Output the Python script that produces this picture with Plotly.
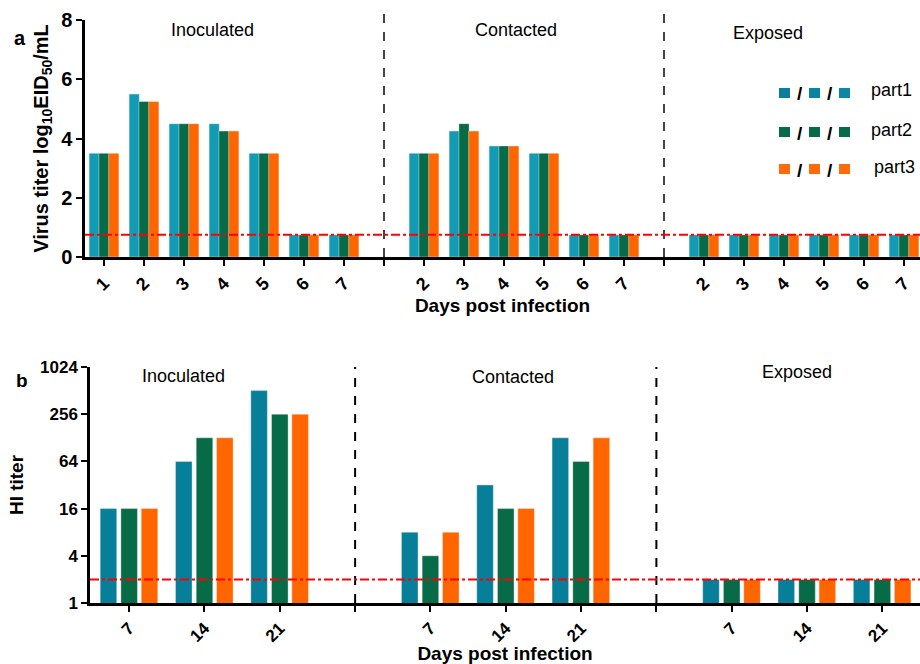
import plotly.graph_objects as go

# ---------------- data: panel a (virus titer, log10 EID50/mL) ----------------
groups = ["Inoculated", "Contacted", "Exposed"]
days_a_inoc = [1, 2, 3, 4, 5, 6, 7]
days_a_cont = [2, 3, 4, 5, 6, 7]
days_a_exp = [2, 3, 4, 5, 6, 7]

a_inoc_part1 = [3.5, 5.5, 4.5, 4.5, 3.5, 0.75, 0.75]
a_inoc_part2 = [3.5, 5.25, 4.5, 4.25, 3.5, 0.75, 0.75]
a_inoc_part3 = [3.5, 5.25, 4.5, 4.25, 3.5, 0.75, 0.75]
a_cont_part1 = [3.5, 4.25, 3.75, 3.5, 0.75, 0.75]
a_cont_part2 = [3.5, 4.5, 3.75, 3.5, 0.75, 0.75]
a_cont_part3 = [3.5, 4.25, 3.75, 3.5, 0.75, 0.75]
a_exp_part1 = [0.75, 0.75, 0.75, 0.75, 0.75, 0.75]
a_exp_part2 = [0.75, 0.75, 0.75, 0.75, 0.75, 0.75]
a_exp_part3 = [0.75, 0.75, 0.75, 0.75, 0.75, 0.75]
a_detection_limit = 0.75
a_yticks = [0, 2, 4, 6, 8]

# ---------------- data: panel b (HI titer) ----------------
days_b_inoc = [7, 14, 21]
days_b_cont = [7, 14, 21]
days_b_exp = [7, 14, 21]

b_inoc_part1 = [16, 64, 512]
b_inoc_part2 = [16, 128, 256]
b_inoc_part3 = [16, 128, 256]
b_cont_part1 = [8, 32, 128]
b_cont_part2 = [4, 16, 64]
b_cont_part3 = [8, 16, 128]
b_exp_part1 = [2, 2, 2]
b_exp_part2 = [2, 2, 2]
b_exp_part3 = [2, 2, 2]
b_detection_limit = 2
b_yticks = [1, 4, 16, 64, 256, 1024]

series_names = ["part1", "part2", "part3"]

# ---------------- styles ----------------
FONT = "Liberation Sans, Arial, Helvetica, sans-serif"
colors_a = ["#139bb5", "#086b48", "#ff6600"]
colors_b = ["#077f99", "#086b48", "#ff6600"]


def build_positions(day_groups):
    """Sequential slots per group, one empty slot between groups for the divider."""
    positions, dividers, pos = [], [], 0
    for i, days in enumerate(day_groups):
        positions.append(list(range(pos, pos + len(days))))
        pos += len(days)
        if i < len(day_groups) - 1:
            dividers.append(pos)
            pos += 1
    return positions, dividers


fig = go.Figure()

# ---------- panel a ----------
pos_a, div_a = build_positions([days_a_inoc, days_a_cont, days_a_exp])
vals_a = [
    [a_inoc_part1, a_cont_part1, a_exp_part1],
    [a_inoc_part2, a_cont_part2, a_exp_part2],
    [a_inoc_part3, a_cont_part3, a_exp_part3],
]
width_a = 0.255
shift_a = [-0.245, 0.0, 0.245]
for s in range(3):
    xs, ys = [], []
    for g in range(3):
        xs += pos_a[g]
        ys += vals_a[s][g]
    fig.add_trace(go.Bar(
        x=xs, y=ys, name=series_names[s], xaxis="x", yaxis="y",
        width=width_a, offset=shift_a[s] - width_a / 2,
        marker=dict(color=colors_a[s], line=dict(color="rgba(255,255,255,0.6)", width=0.6)),
        showlegend=False,
    ))

# ---------- panel b ----------
pos_b, div_b = build_positions([days_b_inoc, days_b_cont, days_b_exp])
vals_b = [
    [b_inoc_part1, b_cont_part1, b_exp_part1],
    [b_inoc_part2, b_cont_part2, b_exp_part2],
    [b_inoc_part3, b_cont_part3, b_exp_part3],
]
width_b = 0.22
shift_b = [-0.275, 0.0, 0.27]
for s in range(3):
    xs, ys = [], []
    for g in range(3):
        xs += pos_b[g]
        ys += vals_b[s][g]
    fig.add_trace(go.Bar(
        x=xs, y=ys, name=series_names[s], xaxis="x2", yaxis="y2",
        width=width_b, offset=shift_b[s] - width_b / 2,
        marker=dict(color=colors_b[s], line=dict(color="rgba(255,255,255,0.6)", width=0.6)),
        showlegend=False,
    ))

tv_a = pos_a[0] + pos_a[1] + pos_a[2]
tt_a = [str(d) for d in days_a_inoc + days_a_cont + days_a_exp]
tv_b = pos_b[0] + pos_b[1] + pos_b[2]
tt_b = [str(d) for d in days_b_inoc + days_b_cont + days_b_exp]

W, H = 920, 664
BOLD = "bold"


def axis_common(tick_size):
    return dict(showline=True, linecolor="black", linewidth=2.5, ticks="outside",
                ticklen=6, tickwidth=2, tickcolor="black", showgrid=False, zeroline=False,
                automargin=False,
                tickfont=dict(family=FONT, size=tick_size, color="black", weight=BOLD))


def minor_ticks(vals):
    return dict(tickmode="array", tickvals=vals, ticks="outside", ticklen=6,
                tickwidth=2, tickcolor="black", showgrid=False)


fig.update_layout(
    width=W, height=H,
    margin=dict(l=0, r=0, t=0, b=0, autoexpand=False),
    paper_bgcolor="white", plot_bgcolor="white",
    barmode="overlay",
    font=dict(family=FONT, color="black"),
    xaxis=dict(**axis_common(18), domain=[85 / W, 1], range=[-0.475, 20.4],
               tickmode="array", tickvals=tv_a, ticktext=tt_a, tickangle=-45, anchor="y",
               minor=minor_ticks(div_a),
               title=dict(text="Days post infection", standoff=6,
                          font=dict(family=FONT, size=19, color="black", weight=BOLD))),
    yaxis=dict(**axis_common(20), domain=[1 - 257 / H, 1 - 20 / H], range=[0, 8],
               tickmode="array", tickvals=a_yticks, anchor="x",
               title=dict(text="Virus titer log<sub>10</sub>EID<sub>50</sub>/mL", standoff=8,
                          font=dict(family=FONT, size=20, color="black", weight=BOLD))),
    xaxis2=dict(**axis_common(17), domain=[90 / W, 1], range=[-0.52, 10.5],
                tickmode="array", tickvals=tv_b, ticktext=tt_b, tickangle=-45, anchor="y2",
                minor=minor_ticks(div_b),
                title=dict(text="Days post infection", standoff=0,
                           font=dict(family=FONT, size=19, color="black", weight=BOLD))),
    yaxis2=dict(**axis_common(17), domain=[1 - 603 / H, 1 - 367 / H], type="log",
                range=[0, 3.0103], tickmode="array", tickvals=b_yticks,
                ticktext=[str(v) for v in b_yticks], anchor="x2",
                title=dict(text="HI titer", standoff=12,
                           font=dict(family=FONT, size=19, color="black", weight=BOLD))),
)

shapes = []
# group dividers
for d in div_a:
    shapes.append(dict(type="line", xref="x", yref="y domain", x0=d, x1=d, y0=0, y1=1.05,
                       line=dict(color="#444444", width=2, dash="dash")))
for d in div_b:
    shapes.append(dict(type="line", xref="x2", yref="y2 domain", x0=d, x1=d, y0=0, y1=1,
                       line=dict(color="black", width=2, dash="dash")))
# detection limit lines
shapes.append(dict(type="line", xref="x domain", yref="y", x0=0, x1=1,
                   y0=a_detection_limit, y1=a_detection_limit,
                   line=dict(color="#ff0000", width=2, dash="dashdot")))
shapes.append(dict(type="line", xref="x2 domain", yref="y2", x0=0, x1=1,
                   y0=b_detection_limit, y1=b_detection_limit,
                   line=dict(color="#ff0000", width=2, dash="dashdot")))

ann = []


def text(x, y, s, size=18, bold=False, xanchor="center"):
    ann.append(dict(x=x / W, y=1 - y / H, xref="paper", yref="paper", text=s, showarrow=False,
                    xanchor=xanchor, yanchor="middle", borderpad=0,
                    font=dict(family=FONT, size=size, color="black",
                              weight=BOLD if bold else "normal")))


# panel letters
text(20, 38, "a", size=20, bold=True)
text(22, 380, "b", size=19, bold=True)
# group labels
for (x, y), g in zip([(212, 30), (516, 30), (768, 33)], groups):
    text(x, y, g, size=18)
for (x, y), g in zip([(183, 376), (513, 377), (797, 372)], groups):
    text(x, y, g, size=18)

# custom legend: three squares per part, separated by slashes
legend_colors = [["#0b7d9a", "#0c83a0", "#0e87a4"],
                 ["#086b48", "#086b48", "#086b48"],
                 ["#ff6a0a", "#ff6a0a", "#ff6a0a"]]
sq_cx = [784.5, 814.5, 844.5]
slash_x = [799.5, 829.5]
row_y = [93, 132, 169]
label_y = [90, 130, 167]
label_x = [870, 870, 873]
for i, (name, cols) in enumerate(zip(series_names, legend_colors)):
    for cx, c in zip(sq_cx, cols):
        shapes.append(dict(type="rect", xref="paper", yref="paper",
                           x0=(cx - 5.5) / W, x1=(cx + 5.5) / W,
                           y0=1 - (row_y[i] + 5) / H, y1=1 - (row_y[i] - 5) / H,
                           fillcolor=c, line=dict(width=0)))
    for sx in slash_x:
        text(sx, row_y[i] + 1, "/", size=19, bold=True)
    text(label_x[i], label_y[i], name, size=18, xanchor="left")

fig.update_layout(shapes=shapes, annotations=ann)
fig.write_html(
    "out.html",
    config={"displayModeBar": False},
    post_script="document.body.style.margin='0';document.body.style.overflow='hidden';",
)
